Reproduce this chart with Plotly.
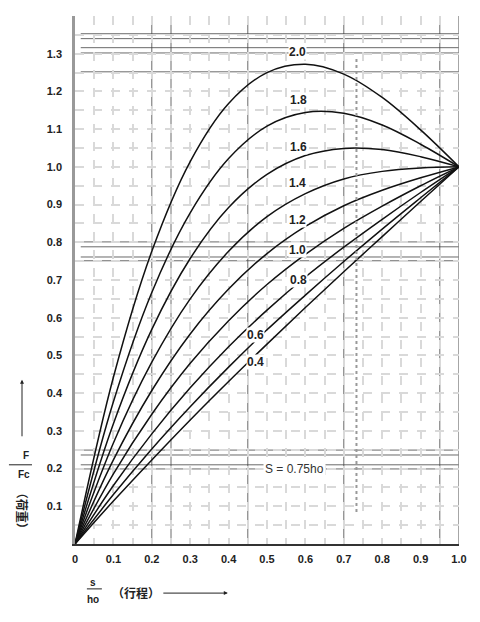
import plotly.graph_objects as go

# ── Data: F/Fc against s/ho for each ho/t ratio ─────────────────────────────
s_ratio = [0.0, 0.1, 0.2, 0.3, 0.4, 0.5, 0.6, 0.7, 0.8, 0.9, 1.0]

f_04 = [0, 0.114, 0.223, 0.329, 0.431, 0.530, 0.627, 0.722, 0.815, 0.908, 1.0]
f_06 = [0, 0.131, 0.252, 0.364, 0.469, 0.568, 0.660, 0.749, 0.835, 0.918, 1.0]
f_08 = [0, 0.155, 0.292, 0.414, 0.523, 0.620, 0.708, 0.787, 0.861, 0.932, 1.0]
f_10 = [0, 0.186, 0.344, 0.479, 0.592, 0.688, 0.768, 0.837, 0.896, 0.950, 1.0]
f_12 = [0, 0.223, 0.407, 0.557, 0.676, 0.770, 0.842, 0.897, 0.938, 0.971, 1.0]
f_14 = [0, 0.268, 0.482, 0.650, 0.776, 0.868, 0.929, 0.968, 0.988, 0.997, 1.0]
f_16 = [0, 0.319, 0.569, 0.757, 0.892, 0.980, 1.030, 1.049, 1.046, 1.027, 1.0]
f_18 = [0, 0.377, 0.667, 0.878, 1.022, 1.108, 1.144, 1.142, 1.111, 1.060, 1.0]
f_20 = [0, 0.442, 0.776, 1.014, 1.168, 1.250, 1.272, 1.246, 1.184, 1.098, 1.0]

ratio_labels = ["0.4", "0.6", "0.8", "1.0", "1.2", "1.4", "1.6", "1.8", "2.0"]
curves = [f_04, f_06, f_08, f_10, f_12, f_14, f_16, f_18, f_20]

x_ticks = [0, 0.1, 0.2, 0.3, 0.4, 0.5, 0.6, 0.7, 0.8, 0.9, 1.0]
x_ticktext = ["0", "0.1", "0.2", "0.3", "0.4", "0.5", "0.6", "0.7", "0.8", "0.9", "1.0"]
y_ticks = [0.1, 0.2, 0.3, 0.4, 0.5, 0.6, 0.7, 0.8, 0.9, 1.0, 1.1, 1.2, 1.3]
y_ticktext = ["0.1", "0.2", "0.3", "0.4", "0.5", "0.6", "0.7", "0.8", "0.9", "1.0", "1.1", "1.2", "1.3"]

# where each ratio label sits (data coords)
label_pos = {
    "2.0": (0.579, 1.305), "1.8": (0.581, 1.178), "1.6": (0.581, 1.053),
    "1.4": (0.579, 0.958), "1.2": (0.579, 0.859), "1.0": (0.579, 0.780),
    "0.8": (0.581, 0.700), "0.6": (0.469, 0.554), "0.4": (0.469, 0.483),
}

FONT = "Liberation Sans, Arial, sans-serif"
CJK = "Noto Sans CJK JP"
GRID = "#d9d9d9"
DARK = "#444444"
INK = "#222222"

fig = go.Figure()

for name, ys in zip(ratio_labels, curves):
    fig.add_trace(go.Scatter(
        x=s_ratio, y=ys, mode="lines",
        line=dict(color="#111111", width=1.5, shape="spline", smoothing=1.0),
        name=name, showlegend=False,
    ))

# ── curve labels ─────────────────────────────────────────────────────────────
for name, (lx, ly) in label_pos.items():
    fig.add_annotation(x=lx, y=ly, text=f"<b>{name}</b>", showarrow=False,
                       font=dict(family=FONT, size=12, color=INK),
                       bgcolor="white", borderpad=0)

# ── scan-style dark rule lines ───────────────────────────────────────────────
for vx in [0.2, 0.25, 0.45, 0.7, 0.95]:
    fig.add_shape(type="line", xref="x", yref="paper", x0=vx, x1=vx, y0=0, y1=1,
                  line=dict(color=DARK, width=0.8), layer="below")
for hy in [1.353, 1.34, 1.316, 1.302, 1.252, 0.801, 0.788, 0.761, 0.751,
           0.249, 0.236, 0.21, 0.199]:
    fig.add_shape(type="line", xref="paper", yref="y", x0=0.015, x1=1, y0=hy, y1=hy,
                  line=dict(color=DARK, width=0.8), layer="below")

# right border
fig.add_shape(type="line", xref="x", yref="paper", x0=1.0, x1=1.0, y0=0, y1=1,
              line=dict(color="#888", width=1.5), layer="below")

# ── S = 0.75ho marker ────────────────────────────────────────────────────────
fig.add_shape(type="line", xref="x", yref="y", x0=0.733, x1=0.733, y0=0.085, y1=1.29,
              line=dict(color="#999", width=2, dash="dot"))
fig.add_annotation(x=0.49, y=0.2, xanchor="left", text="S = 0.75ho", showarrow=False,
                   font=dict(family=FONT, size=12, color="#333"), bgcolor="white")


def side_text(x, y, text, size=11, family=FONT, angle=0):
    fig.add_annotation(xref="paper", yref="paper", x=x, y=y, text=text,
                       xanchor="center", yanchor="middle", showarrow=False,
                       textangle=angle,
                       font=dict(family=family, size=size, color=INK))


# ── y axis title: arrow, F/Fc, (荷重) ─────────────────────────────────────────
fig.add_annotation(xref="paper", yref="paper", x=-0.138, y=0.311, ax=0, ay=58,
                   text="", showarrow=True, arrowhead=2, arrowsize=0.8,
                   arrowwidth=1, arrowcolor=INK)
side_text(-0.128, 0.167, "<b>F</b>", size=10)
fig.add_shape(type="line", xref="paper", yref="paper", x0=-0.172, x1=-0.112,
              y0=0.150, y1=0.150, line=dict(color=INK, width=1))
side_text(-0.134, 0.131, "<b>Fc</b>", size=10)
side_text(-0.135, 0.0625, "<b>（荷重）</b>", size=12, family=CJK, angle=90)

# ── x axis title: s/ho (行程) → ───────────────────────────────────────────────
side_text(0.047, -0.073, "<b>s</b>", size=10)
fig.add_shape(type="line", xref="paper", yref="paper", x0=0.031, x1=0.070,
              y0=-0.085, y1=-0.085, line=dict(color=INK, width=1))
side_text(0.047, -0.106, "<b>ho</b>", size=10)
side_text(0.159, -0.092, "<b>（行程）</b>", size=12, family=CJK)
fig.add_annotation(xref="paper", yref="paper", x=0.398, y=-0.093, ax=-66, ay=0,
                   text="", showarrow=True, arrowhead=2, arrowsize=0.8,
                   arrowwidth=1, arrowcolor=INK)

fig.update_xaxes(
    range=[0, 1.0], tickvals=x_ticks, ticktext=[f"<b>{t}</b>" for t in x_ticktext],
    tickfont=dict(family=FONT, size=11, color=INK),
    showgrid=True, gridcolor=GRID, gridwidth=2, griddash="dash",
    minor=dict(dtick=0.05, showgrid=True, gridcolor=GRID, gridwidth=2, griddash="dash"),
    showline=True, linecolor="#333", linewidth=1.5, zeroline=False,
    ticks="", ticklabelstandoff=4,
)
fig.update_yaxes(
    range=[0, 1.4], tickvals=y_ticks, ticktext=[f"<b>{t}</b>" for t in y_ticktext],
    tickfont=dict(family=FONT, size=11, color=INK),
    showgrid=True, gridcolor=GRID, gridwidth=2, griddash="dash",
    minor=dict(dtick=0.05, showgrid=True, gridcolor=GRID, gridwidth=2, griddash="dash"),
    showline=True, linecolor="#999", linewidth=2.5, zeroline=False,
    ticks="", ticklabelstandoff=8,
)

# page body adds 8px offset, so margins are trimmed to land the plot area
fig.update_layout(
    width=480, height=622,
    margin=dict(l=67, r=29, t=8, b=86),
    plot_bgcolor="white", paper_bgcolor="white",
    showlegend=False,
)

fig.write_html("out.html")
